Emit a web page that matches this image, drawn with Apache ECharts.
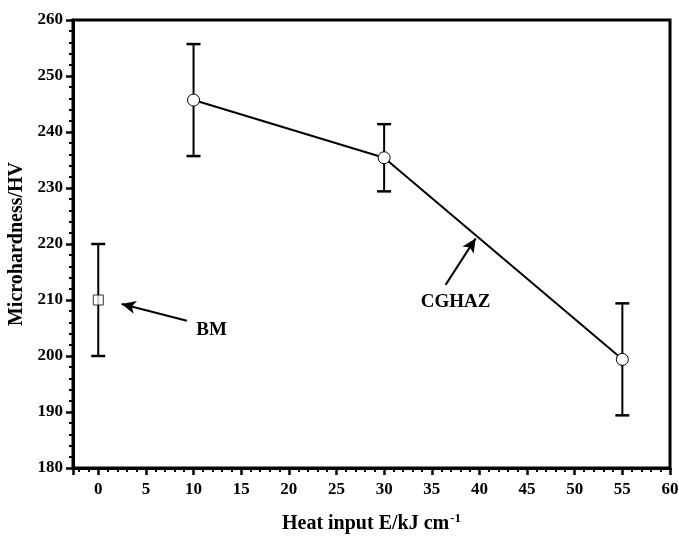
<!DOCTYPE html>
<html><head><meta charset="utf-8">
<script src="https://cdn.jsdelivr.net/npm/echarts@6/dist/echarts.min.js"></script>
<style>html,body{margin:0;padding:0;background:#fff}#c{width:679px;height:538px}</style>
</head><body><div id="c"></div>
<script>
// Data
const bmX = [0];
const bmY = [210];
const bmErr = [10];
const cgX = [10, 30, 55];
const cgY = [245.7, 235.4, 199.4];
const cgErr = [10, 6, 10];
const xTicks = [0,5,10,15,20,25,30,35,40,45,50,55,60];
const yTicks = [180,190,200,210,220,230,240,250,260];

const font = '"Liberation Serif", "Times New Roman", serif';
const chart = echarts.init(document.getElementById('c'));

function errSeries(xs, ys, es){
  return {
    type:'custom', z:2, silent:true,
    data: xs.map((x,i)=>[x, ys[i]-es[i], ys[i]+es[i]]),
    renderItem:function(params, api){
      const lo = api.coord([api.value(0), api.value(1)]);
      const hi = api.coord([api.value(0), api.value(2)]);
      const w = 7;
      const st = {stroke:'#000', lineWidth:2};
      return {type:'group', children:[
        {type:'line', shape:{x1:lo[0],y1:lo[1],x2:hi[0],y2:hi[1]}, style:st},
        {type:'line', shape:{x1:lo[0]-w,y1:lo[1],x2:lo[0]+w,y2:lo[1]}, style:{stroke:'#000',lineWidth:2.5}},
        {type:'line', shape:{x1:hi[0]-w,y1:hi[1],x2:hi[0]+w,y2:hi[1]}, style:{stroke:'#000',lineWidth:2.5}}
      ]};
    }
  };
}

const arrowStyle = {color:'#000', width:2, type:'solid'};
chart.setOption({
  animation:false,
  grid:{left:73, right:9, top:20, bottom:70, show:true, borderColor:'#000', borderWidth:3, containLabel:false, outerBoundsMode:'none'},
  xAxis:{
    type:'value', min:-2.65, max:60, splitNumber:12,
    name:'{t|Heat input E/kJ cm}{s|-1}', nameLocation:'middle', nameGap:44,
    nameTextStyle:{rich:{
      t:{fontFamily:font, fontWeight:'bold', fontSize:20, color:'#000'},
      s:{fontFamily:font, fontWeight:'bold', fontSize:13, color:'#000', verticalAlign:'top', padding:[0,0,11,1]}
    }},
    axisLine:{onZero:false, lineStyle:{color:'#000', width:3}},
    axisTick:{length:7, lineStyle:{width:2.5}},
    minorTick:{show:true, splitNumber:5, length:4, lineStyle:{color:'#000', width:2}},
    axisLabel:{fontFamily:font, fontWeight:'bold', fontSize:17, color:'#000', margin:13, showMinLabel:false},
    splitLine:{show:false}
  },
  yAxis:{
    type:'value', min:180, max:260, interval:10,
    name:'Microhardness/HV', nameLocation:'middle', nameGap:44,
    nameTextStyle:{fontFamily:font, fontWeight:'bold', fontSize:20, color:'#000'},
    axisLine:{onZero:false, lineStyle:{color:'#000', width:3}},
    axisTick:{length:7, lineStyle:{width:2.5}},
    minorTick:{show:true, splitNumber:5, length:4, lineStyle:{color:'#000', width:2}},
    axisLabel:{fontFamily:font, fontWeight:'bold', fontSize:17, color:'#000', margin:10},
    splitLine:{show:false}
  },
  series:[
    errSeries(bmX, bmY, bmErr),
    errSeries(cgX, cgY, cgErr),
    {
      type:'line', z:3, data:cgX.map((x,i)=>[x,cgY[i]]),
      lineStyle:{color:'#000', width:2}, symbol:'circle', symbolSize:12,
      itemStyle:{color:'#fff', borderColor:'#000', borderWidth:1},
      markLine:{
        silent:true, symbol:['none','arrow'], symbolSize:[10,14],
        label:{show:false}, lineStyle:arrowStyle,
        data:[
          [{coord:[36.45,212.7]},{coord:[39.6,221.0]}],
          [{coord:[9.3,206.3]},{coord:[2.46,209.3]}]
        ]
      },
      markPoint:{
        silent:true, symbol:'circle', symbolSize:0,
        label:{show:true, position:'inside', fontFamily:font, fontWeight:'bold', fontSize:19, color:'#000', formatter:p=>p.name},
        data:[
          {name:'CGHAZ', coord:[37.5,209.6]},
          {name:'BM', coord:[11.9,204.6]}
        ]
      }
    },
    {
      type:'scatter', z:3, data:bmX.map((x,i)=>[x,bmY[i]]),
      symbol:'rect', symbolSize:10,
      itemStyle:{color:'#fff', borderColor:'#000', borderWidth:1}
    }
  ]
});
</script></body></html>
